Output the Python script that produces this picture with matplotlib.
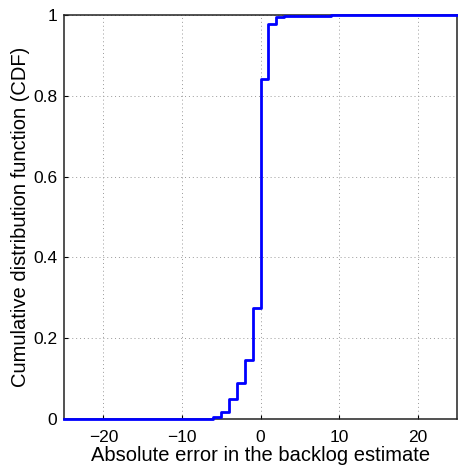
import matplotlib
matplotlib.use("Agg")
import matplotlib.pyplot as plt

# step positions (absolute error) and the CDF value reached at each one
error_values = [-25, -6, -5, -4, -3, -2, -1, 0, 1, 2, 3, 9, 25]
cdf_values = [0.0, 0.005, 0.018, 0.049, 0.088, 0.145, 0.274, 0.842, 0.978, 0.996, 0.998, 1.0, 1.0]

x_ticks = [-20, -10, 0, 10, 20]
y_ticks = [0, 0.2, 0.4, 0.6, 0.8, 1]
y_tick_labels = ["0", "0.2", "0.4", "0.6", "0.8", "1"]

plt.rcParams['font.family'] = ['Liberation Sans', 'DejaVu Sans']

fig = plt.figure(figsize=(4.58, 4.69), dpi=100)
ax = fig.add_axes([0.140, 0.107, 0.858, 0.861])

ax.plot(error_values, cdf_values, drawstyle='steps-post', color=(0, 0, 1),
        linewidth=2.0, zorder=5, clip_on=False)

ax.set_xlim(-25, 25)
ax.set_ylim(0, 1)
ax.set_xticks(x_ticks)
ax.set_yticks(y_ticks)
ax.set_yticklabels(y_tick_labels)
ax.tick_params(direction='in', length=3, width=0.8, labelsize=12.5)
ax.tick_params(axis='x', pad=8)
ax.tick_params(axis='y', pad=5)
ax.grid(True, linestyle=(0, (1, 3)), color='#999999', linewidth=0.7)
for s in ax.spines.values():
    s.set_linewidth(1.1)
    s.set_color('#222222')

ax.set_xlabel("Absolute error in the backlog estimate", fontsize=14.5, labelpad=1)
ax.set_ylabel("Cumulative distribution function (CDF)", fontsize=14.5, labelpad=2)

fig.savefig("out.png", dpi=100)
